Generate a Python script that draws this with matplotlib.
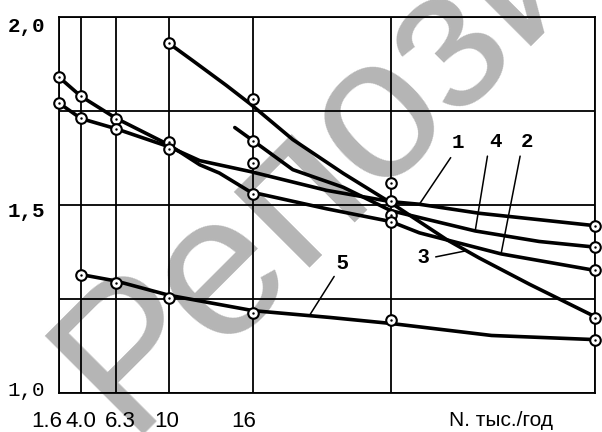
import numpy as np
import matplotlib
matplotlib.use("Agg")
import matplotlib.pyplot as plt

# N grid (thousand per year) and where each grid line sits across the axis
N_grid = [1.6, 4.0, 6.3, 10, 16, 25, 40]
grid_pos = [0.0, 0.041, 0.106, 0.205, 0.362, 0.619, 1.0]
x_labels = ["1.6", "4.0", "6.3", "10", "16", "", ""]
x_label_shift = [-9, 0, 3, -1.5, -7, 0, 0]      # points, hand-set nudges
y_vals = [1.0, 1.5, 2.0]
y_labels = ["1,0", "1,5", "2,0"]
y_label_shift = [2, -4.5, -6.5]

# measured points
pts_N = [1.6, 1.6, 4.0, 4.0, 4.0, 6.3, 6.3, 6.3, 10, 10, 10, 10,
         16, 16, 16, 16, 16, 25, 25, 25, 25, 25, 40, 40, 40, 40, 40]
pts_v = [1.840, 1.771, 1.791, 1.732, 1.315, 1.728, 1.702, 1.292,
         1.930, 1.667, 1.650, 1.253, 1.782, 1.671, 1.612, 1.529, 1.213,
         1.558, 1.511, 1.474, 1.455, 1.193, 1.445, 1.388, 1.326, 1.199, 1.140]

# curves
c1_N = [1.6, 4.0, 6.3, 10, 12.2, 15.8, 20.8, 25, 27.1, 31.5, 40]
c1_v = [1.771, 1.730, 1.703, 1.655, 1.618, 1.589, 1.539, 1.509, 1.502, 1.478, 1.445]
c2_N = [1.6, 4.0, 6.3, 10, 12.2, 13.6, 15.8, 20.8, 25, 27.1, 33.1, 40]
c2_v = [1.840, 1.789, 1.731, 1.660, 1.607, 1.585, 1.535, 1.490, 1.456, 1.426, 1.370, 1.326]
c3_N = [10, 11.7, 14.1, 15.8, 18.6, 21.9, 25, 29.1, 31.5, 35.2, 40]
c3_v = [1.930, 1.884, 1.818, 1.769, 1.674, 1.584, 1.506, 1.408, 1.359, 1.289, 1.203]
c4_N = [14.7, 16, 18.6, 21.9, 25, 31.2, 35.9, 40]
c4_v = [1.706, 1.671, 1.594, 1.547, 1.485, 1.431, 1.403, 1.388]
c5_N = [4.0, 6.3, 10, 16, 21, 25, 32.4, 40]
c5_v = [1.315, 1.298, 1.260, 1.219, 1.201, 1.185, 1.153, 1.142]

# curve numbers: text position, leader start, leader end (on the curve)
tags = ["1", "4", "2", "3", "5"]
tag_xy = [(29.9, 1.665), (32.7, 1.668), (35.0, 1.668), (27.4, 1.360), (21.8, 1.345)]
lead_from = [(29.4, 1.626), (32.1, 1.630), (34.5, 1.630), (28.3, 1.362), (21.3, 1.310)]
lead_to = [(27.1, 1.502), (31.2, 1.431), (33.1, 1.370), (30.5, 1.378), (19.7, 1.207)]


def fwd(x):
    return np.interp(x, N_grid, grid_pos)


def inv(p):
    return np.interp(p, grid_pos, N_grid)


fig = plt.figure(figsize=(6.02, 4.32), dpi=100)
ax = fig.add_axes([59 / 602, 1 - 393 / 432, 536 / 602, 376 / 432])
ax.patch.set_alpha(0)

fig.text(127 / 602, -2 / 432, "Репозиторий", family="Liberation Sans",
         fontsize=146, color="#b5b5b5", rotation=45, rotation_mode="anchor",
         ha="left", va="baseline", zorder=-5)

ax.set_xscale("function", functions=(fwd, inv))
ax.set_xlim(1.6, 40)
ax.set_ylim(1.0, 2.0)

ax.set_xticks(N_grid, labels=[""] * len(N_grid))
ax.set_yticks(y_vals, labels=[""] * len(y_vals))
ax.set_yticks([1.25, 1.75], minor=True)
ax.grid(True, which="both", color="black", lw=1.3)
ax.tick_params(which="both", length=0)
for s in ax.spines.values():
    s.set_linewidth(1.3)

for n, lab, dx in zip(N_grid, x_labels, x_label_shift):
    ax.annotate(lab, xy=(n, 0), xycoords=("data", "axes fraction"),
                xytext=(dx, -13), textcoords="offset points", ha="center",
                va="top", fontsize=16, family="Liberation Sans",
                annotation_clip=False)
for v, lab, dy in zip(y_vals, y_labels, y_label_shift):
    ax.annotate(lab, xy=(0, v), xycoords=("axes fraction", "data"),
                xytext=(-10, dy), textcoords="offset points", ha="right",
                va="center", fontsize=15, family="Liberation Mono",
                weight="normal" if lab == "1,0" else "bold",
                annotation_clip=False)

for cx, cy in [(c1_N, c1_v), (c2_N, c2_v), (c3_N, c3_v), (c4_N, c4_v), (c5_N, c5_v)]:
    ax.plot(cx, cy, color="black", lw=2.6, solid_capstyle="round",
            solid_joinstyle="round", zorder=3)

ax.plot(pts_N, pts_v, "o", ms=7.6, mfc="white", mec="black", mew=1.5,
        zorder=4, clip_on=False)
ax.plot(pts_N, pts_v, ".", ms=1.5, color="black", zorder=5, clip_on=False)

for tag, xy, a, b in zip(tags, tag_xy, lead_from, lead_to):
    mono = tag in "142"
    ax.text(xy[0], xy[1], tag, ha="center", va="center", fontsize=15,
            family="Liberation Mono" if mono else "Liberation Sans",
            weight="bold", zorder=5)
    ax.annotate("", xy=b, xytext=a,
                arrowprops=dict(arrowstyle="-", lw=1.1, color="black",
                                shrinkA=0, shrinkB=0), zorder=5)

ax.annotate("N. тыс./год", xy=(0.825, 0), xycoords="axes fraction",
            xytext=(0, -13), textcoords="offset points", ha="center",
            va="top", fontsize=15, family="Liberation Sans")

fig.savefig("out.png", dpi=100)
